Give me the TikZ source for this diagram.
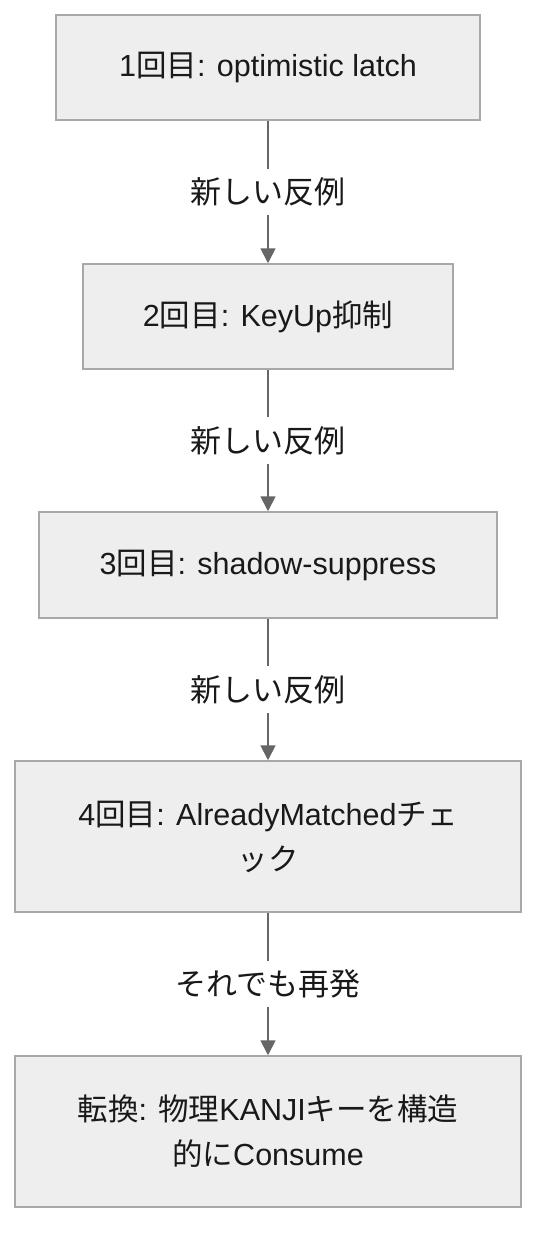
\documentclass[tikz,border=0pt]{standalone}
\usepackage{fontspec}
\setmainfont{Liberation Sans}
\newfontfamily\jpfont{Noto Sans CJK JP}
\newcommand{\ja}[1]{{\jpfont #1}}
\usetikzlibrary{arrows.meta}
\definecolor{boxfill}{HTML}{EEEEEE}
\definecolor{boxline}{HTML}{A8A8A8}
\definecolor{arrowgray}{HTML}{666666}
\tikzstyle{stage}=[draw=boxline,fill=boxfill,line width=1.5pt,align=center,inner sep=0pt,text=black!90,font=\fontsize{30.5}{45}\selectfont]
\tikzstyle{edge} = [draw=arrowgray,line width=1.8pt,-{Triangle[length=15pt,width=15pt]}]
\tikzstyle{edgelabel}=[fill=white,inner xsep=4pt,inner ysep=9pt,text=black!90,font=\fontsize{31}{45}\selectfont\jpfont]

\begin{document}
\begin{tikzpicture}[x=1pt,y=-1pt]
    \useasboundingbox (0,0) rectangle (552,1260);
    % the five attempts, top to bottom
    \foreach \pos/\name/\bw/\bh/\txt in {{(268,67.5)/try1/424/105/{1\ja{回目}: optimistic latch}},
        {(268,316.5)/try2/370/105/{2\ja{回目}: KeyUp\ja{抑制}}},
        {(268,565)/try3/458/106/{3\ja{回目}: shadow-suppress}},
        {(268,836.5)/try4/506/151/{4\ja{回目}: AlreadyMatched\ja{チェ}\\\ja{ック}}},
        {(268,1131.5)/switch/506/151/{\ja{転換}: \ja{物理}KANJI\ja{キーを構造}\\\ja{的に}Consume}}}
        \node[stage,minimum width=\bw pt,minimum height=\bh pt] (\name) at \pos {\txt};
    % arrows between them
    \foreach \source/\dest/\lbl in {try1/try2/新しい反例, try2/try3/新しい反例, try3/try4/新しい反例, try4/switch/それでも再発}
        \path[edge] (\source) -- node[edgelabel] {\lbl} (\dest);
\end{tikzpicture}
\end{document}
